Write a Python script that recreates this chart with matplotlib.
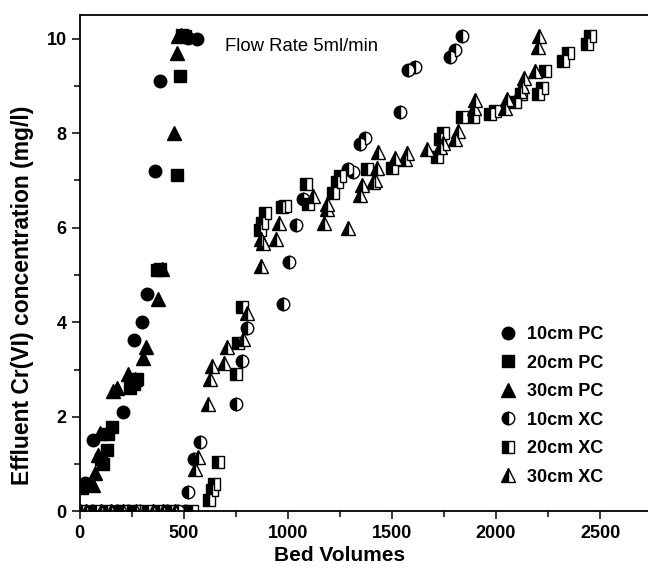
import numpy as np
import matplotlib
matplotlib.use('Agg')
import matplotlib.pyplot as plt
from matplotlib.ticker import MultipleLocator

# bed volumes / effluent Cr(VI) (mg/l)
pc10_x = [25, 62, 207, 260, 298, 322, 360, 385, 520, 562]
pc10_y = [0.6, 1.5, 2.1, 3.62, 4.0, 4.6, 7.2, 9.1, 10.02, 10.0]

pc20_x = [10, 100, 110, 130, 135, 154, 240, 260, 274, 370, 385, 466, 481, 492, 505]
pc20_y = [0.5, 1.1, 1.0, 1.29, 1.63, 1.78, 2.6, 2.7, 2.8, 5.1, 5.13, 7.12, 9.2, 10.07, 10.05]

pc30_x = [62, 72, 87, 96, 158, 178, 230, 265, 303, 317, 375, 395, 452, 466, 472, 485]
pc30_y = [0.55, 0.82, 1.2, 1.65, 2.55, 2.6, 2.9, 2.8, 3.25, 3.48, 4.5, 5.13, 8.0, 9.7, 10.05, 10.07]

xc10_x = [0, 60, 180, 230, 290, 420, 470, 505, 519, 548, 577, 750, 778, 803, 976, 1005,
          1038, 1072, 1288, 1312, 1346, 1370, 1538, 1577, 1611, 1779, 1803, 1836]
xc10_y = [0, 0, 0, 0, 0, 0, 0, 0, 0.42, 1.1, 1.46, 2.28, 3.17, 3.87, 4.38, 5.28,
          6.05, 6.6, 7.25, 7.17, 7.76, 7.9, 8.44, 9.34, 9.4, 9.6, 9.75, 10.06]

xc20_x = [10, 80, 130, 200, 260, 330, 380, 440, 540, 620, 634, 644, 663, 750, 760, 778,
          865, 875, 889, 971, 985, 1087, 1096, 1216, 1235, 1250, 1380, 1500, 1716, 1731,
          1745, 1836, 1889, 1971, 1995, 2091, 2120, 2202, 2221, 2236, 2322, 2346, 2437, 2452]
xc20_y = [0, 0, 0, 0, 0, 0, 0, 0, 0, 0.23, 0.46, 0.57, 1.04, 2.9, 3.57, 4.32,
          5.94, 6.1, 6.32, 6.43, 6.45, 6.93, 6.5, 6.74, 6.96, 7.1, 7.25, 7.27, 7.5, 7.88,
          8.0, 8.33, 8.35, 8.4, 8.47, 8.65, 8.83, 8.83, 8.96, 9.32, 9.53, 9.7, 9.89, 10.06]

xc30_x = [30, 100, 150, 210, 270, 350, 400, 460, 553, 567, 615, 625, 634, 692, 706, 784,
          803, 870, 870, 880, 942, 957, 1120, 1173, 1187, 1187, 1288, 1346, 1355, 1409,
          1418, 1428, 1433, 1514, 1562, 1572, 1668, 1731, 1745, 1803, 1817, 1894, 1899,
          2043, 2053, 2115, 2125, 2135, 2188, 2202, 2207]
xc30_y = [0, 0, 0, 0, 0, 0, 0, 0, 0.9, 1.15, 2.28, 2.8, 3.08, 3.13, 3.47, 3.65,
          4.2, 5.18, 5.75, 5.67, 5.75, 6.09, 6.68, 6.1, 6.4, 6.5, 6.0, 6.7, 6.9, 6.96,
          7.0, 7.27, 7.59, 7.48, 7.46, 7.57, 7.67, 7.7, 7.78, 7.88, 8.05, 8.52, 8.69,
          8.52, 8.73, 8.9, 9.0, 9.17, 9.32, 9.81, 10.06]

plt.rcParams['font.family'] = ['Liberation Sans', 'DejaVu Sans']

fig = plt.figure(figsize=(6.48, 5.72), dpi=100)
ax = fig.add_axes([0.123, 0.106, 0.877, 0.868])

full = dict(linestyle='none', color='black', markeredgecolor='black')
half = dict(linestyle='none', fillstyle='left', markerfacecolor='black',
            markerfacecoloralt='white', markeredgecolor='black', markeredgewidth=1.0)

ax.plot(pc10_x, pc10_y, marker='o', markersize=9, label='10cm PC', **full)
ax.plot(pc20_x, pc20_y, marker='s', markersize=8, label='20cm PC', **full)
ax.plot(pc30_x, pc30_y, marker='^', markersize=9.5, label='30cm PC', **full)
ax.plot(xc10_x, xc10_y, marker='o', markersize=9, label='10cm XC', **half)
ax.plot(xc20_x, xc20_y, marker='s', markersize=8, label='20cm XC', **half)
ax.plot(xc30_x, xc30_y, marker='^', markersize=9.5, label='30cm XC', **half)

ax.set_xlim(0, 2730)
ax.set_ylim(0, 10.5)
ax.xaxis.set_major_locator(MultipleLocator(500))
ax.xaxis.set_minor_locator(MultipleLocator(250))
ax.yaxis.set_major_locator(MultipleLocator(2))
ax.yaxis.set_minor_locator(MultipleLocator(1))
ax.tick_params(which='major', direction='out', length=6, width=1.1, labelsize=13)
ax.tick_params(which='minor', direction='out', length=4, width=1.1)
for lab in ax.get_xticklabels() + ax.get_yticklabels():
    lab.set_fontweight('bold')
for sp in ax.spines.values():
    sp.set_linewidth(1.3)
ax.spines['right'].set_visible(False)

ax.set_xlabel('Bed Volumes', fontsize=15, fontweight='bold')
ax.set_ylabel('Effluent Cr(VI) concentration (mg/l)', fontsize=16.5, fontweight='bold')
ax.xaxis.set_label_coords(0.458, -0.07)
ax.yaxis.set_label_coords(-0.08, 0.435)

ax.text(697, 9.83, 'Flow Rate 5ml/min', fontsize=13.3, va='center', ha='left')

ax.legend(loc='upper left', bbox_to_anchor=(0.71, 0.388), frameon=False,
          prop={'weight': 'bold', 'size': 13}, labelspacing=0.64,
          handlelength=1.9, handletextpad=0.15, borderaxespad=0)

fig.savefig('out.png', dpi=100)
